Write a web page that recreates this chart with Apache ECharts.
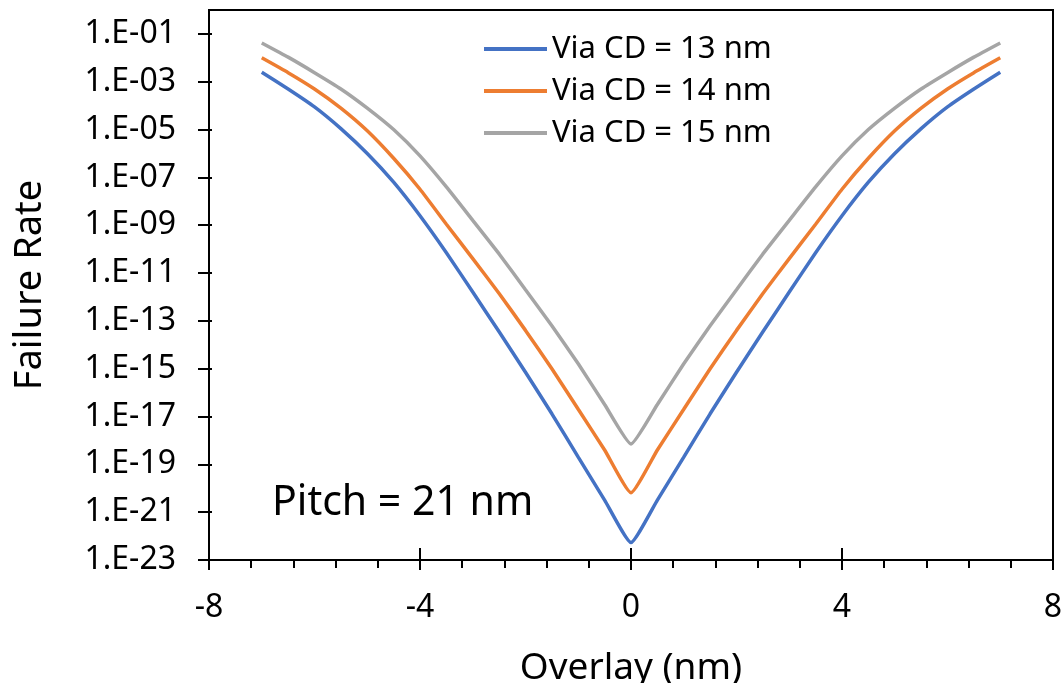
<!DOCTYPE html>
<html>
<head>
<meta charset="utf-8">
<script src="https://cdn.jsdelivr.net/npm/echarts@6/dist/echarts.min.js"></script>
<style>
    html, body { margin: 0; padding: 0; background: #fff; }
    #chart { width: 1063px; height: 683px; }
</style>
</head>
<body>
<div id="chart"></div>
<script>
// overlay values (nm)
const overlay = [-7, -6.5, -6, -5.5, -5, -4.5, -4, -3.5, -3, -2.5, -2, -1.5, -1, -0.5, 0,
    0.5, 1, 1.5, 2, 2.5, 3, 3.5, 4, 4.5, 5, 5.5, 6, 6.5, 7];

// failure rates
const cd13 = [2.5e-3, 5.0e-4, 8.9e-5, 1.1e-5, 1.0e-6, 6.3e-8, 2.5e-9, 7.1e-11, 1.6e-12, 3.5e-14, 7.1e-16, 1.3e-17, 2.0e-19, 3.2e-21, 5.4e-23,
    3.2e-21, 2.0e-19, 1.3e-17, 7.1e-16, 3.5e-14, 1.6e-12, 7.1e-11, 2.5e-9, 6.3e-8, 1.0e-6, 1.1e-5, 8.9e-5, 5.0e-4, 2.5e-3];
const cd14 = [1.0e-2, 2.4e-3, 5.0e-4, 7.9e-5, 8.9e-6, 6.3e-7, 3.2e-8, 1.1e-9, 4.0e-11, 1.4e-12, 4.0e-14, 1.0e-15, 2.0e-17, 4.0e-19, 6.5e-21,
    4.0e-19, 2.0e-17, 1.0e-15, 4.0e-14, 1.4e-12, 4.0e-11, 1.1e-9, 3.2e-8, 6.3e-7, 8.9e-6, 7.9e-5, 5.0e-4, 2.4e-3, 1.0e-2];
const cd15 = [4.2e-2, 1.07e-2, 2.4e-3, 5.0e-4, 7.9e-5, 1.0e-5, 7.9e-7, 4.0e-8, 1.6e-9, 6.3e-11, 2.0e-12, 6.3e-14, 1.6e-15, 3.2e-17, 7.1e-19,
    3.2e-17, 1.6e-15, 6.3e-14, 2.0e-12, 6.3e-11, 1.6e-9, 4.0e-8, 7.9e-7, 1.0e-5, 7.9e-5, 5.0e-4, 2.4e-3, 1.07e-2, 4.2e-2];

const seriesNames = ["Via CD = 13 nm", "Via CD = 14 nm", "Via CD = 15 nm"];
const yTickExps = [-23, -21, -19, -17, -15, -13, -11, -9, -7, -5, -3, -1];

const FONT = "Noto Sans";
const colors = ["#4472C4", "#ED7D31", "#A5A5A5"];

const toPoints = vals => vals.map((v, i) => [overlay[i], Math.log10(v)]);

const fmtExp = v => {
    const n = Math.round(-v);
    return "1.E-" + (n < 10 ? "0" + n : n);
};

const xBase = {
    type: "value",
    min: -8,
    max: 8,
    interval: 4,
    position: "bottom",
    splitLine: { show: false },
};

const yBase = {
    type: "value",
    min: -23,
    max: 0,
    position: "left",
    splitLine: { show: false },
};

const option = {
    backgroundColor: "#fff",
    animation: false,
    color: colors,
    grid: {
        left: 209,
        right: 10,
        top: 10,
        bottom: 123,
        outerBoundsMode: "none",
        containLabel: false,
        show: true,
        borderColor: "#000",
        borderWidth: 2,
    },
    legend: {
        orient: "vertical",
        left: 479,
        top: 28,
        itemWidth: 63,
        itemHeight: 4,
        itemGap: 10,
        icon: "rect",
        textStyle: { fontFamily: FONT, fontSize: 31, color: "#000", lineHeight: 32 },
        data: seriesNames,
    },
    xAxis: [
        Object.assign({}, xBase, {
            axisLine: { onZero: false, lineStyle: { color: "#000", width: 2 } },
            axisTick: { inside: false, length: 10, lineStyle: { color: "#000", width: 2 } },
            minorTick: { show: true, splitNumber: 5, length: 8, lineStyle: { color: "#000", width: 2 } },
            axisLabel: { fontFamily: FONT, fontSize: 32, color: "#000", margin: 32 },
            name: "Overlay (nm)",
            nameLocation: "middle",
            nameGap: 90,
            nameTextStyle: { fontFamily: FONT, fontSize: 37, color: "#000" },
        }),
        // second copy only for the part of the major ticks that crosses into the plot
        Object.assign({}, xBase, {
            axisLine: { show: false, onZero: false },
            axisTick: { inside: true, length: 12, lineStyle: { color: "#000", width: 2 } },
            axisLabel: { show: false },
        }),
    ],
    yAxis: [
        Object.assign({}, yBase, {
            axisLine: { onZero: false, lineStyle: { color: "#000", width: 2 } },
            axisTick: { customValues: yTickExps, length: 11, lineStyle: { color: "#000", width: 2 } },
            axisLabel: {
                customValues: yTickExps,
                formatter: fmtExp,
                fontFamily: FONT, fontSize: 32, color: "#000", margin: 33,
            },
            name: "Failure Rate",
            nameLocation: "middle",
            nameGap: 160,
            nameTextStyle: { fontFamily: FONT, fontSize: 38, color: "#000" },
        }),
        Object.assign({}, yBase, {
            axisLine: { show: false, onZero: false },
            axisTick: { customValues: yTickExps, inside: true, length: 3, lineStyle: { color: "#000", width: 2 } },
            axisLabel: { show: false },
        }),
    ],
    graphic: [{
        type: "text",
        left: 272,
        top: 483,
        style: { text: "Pitch = 21 nm", fontFamily: FONT, fontSize: 41, fill: "#000" },
    }],
    series: [cd13, cd14, cd15].map((vals, i) => ({
        name: seriesNames[i],
        type: "line",
        data: toPoints(vals),
        showSymbol: false,
        smooth: 0.15,
        lineStyle: { width: 3.5 },
    })),
};

const chart = echarts.init(document.getElementById("chart"));
chart.setOption(option);
</script>
</body>
</html>
